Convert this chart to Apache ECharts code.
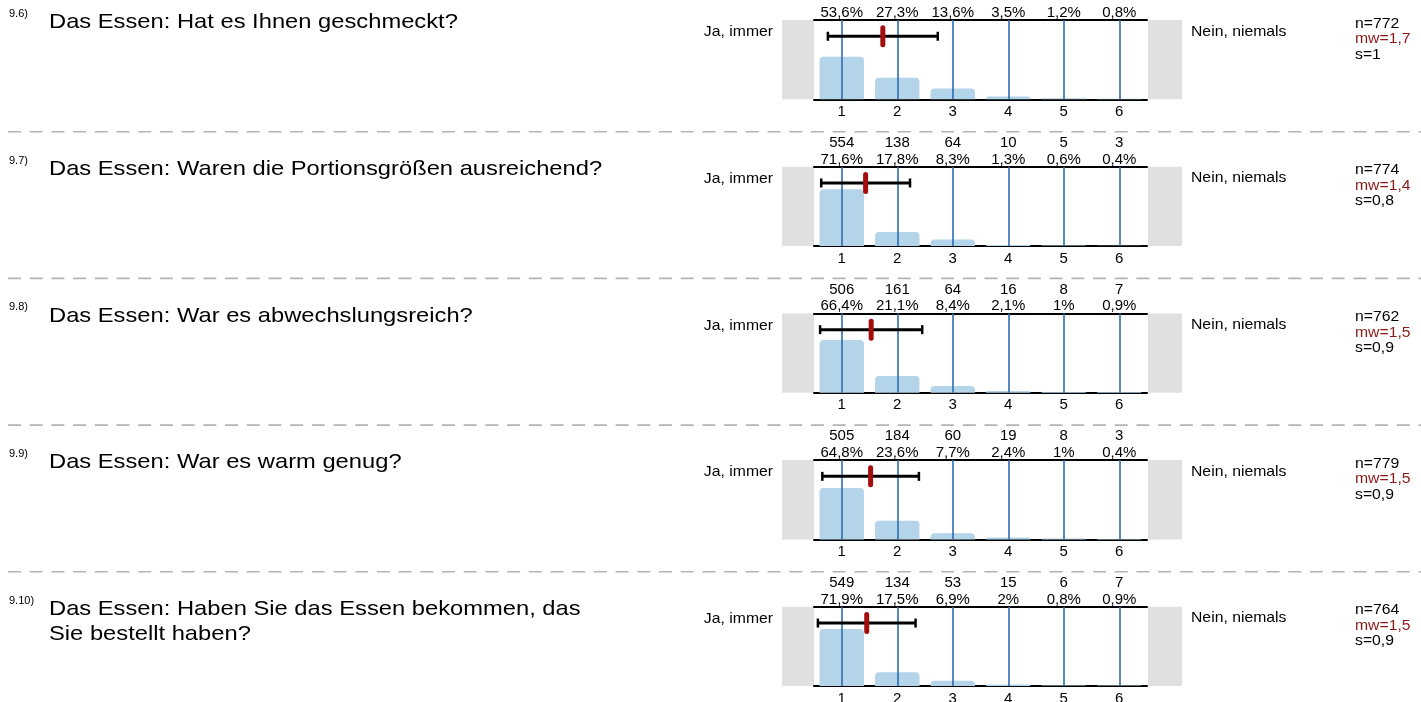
<!DOCTYPE html>
<html>
<head>
<meta charset="utf-8">
<title>Das Essen</title>
<script src="https://cdn.jsdelivr.net/npm/echarts@6/dist/echarts.min.js"></script>
<style>
  html, body { margin: 0; padding: 0; background: #fff; }
  #chart { width: 1421px; height: 702px; }
</style>
</head>
<body>
<div id="chart"></div>
<script>
var questionNos = ['9.6)', '9.7)', '9.8)', '9.9)', '9.10)'];
var questions = [
  'Das Essen: Hat es Ihnen geschmeckt?',
  'Das Essen: Waren die Portionsgrößen ausreichend?',
  'Das Essen: War es abwechslungsreich?',
  'Das Essen: War es warm genug?',
  'Das Essen: Haben Sie das Essen bekommen, das\nSie bestellt haben?'
];
var scale = ['1', '2', '3', '4', '5', '6'];
var counts = [
  [414, 211, 105, 27, 9, 6],
  [554, 138, 64, 10, 5, 3],
  [506, 161, 64, 16, 8, 7],
  [505, 184, 60, 19, 8, 3],
  [549, 134, 53, 15, 6, 7]
];
var percents = [
  [53.6, 27.3, 13.6, 3.5, 1.2, 0.8],
  [71.6, 17.8, 8.3, 1.3, 0.6, 0.4],
  [66.4, 21.1, 8.4, 2.1, 1, 0.9],
  [64.8, 23.6, 7.7, 2.4, 1, 0.4],
  [71.9, 17.5, 6.9, 2, 0.8, 0.9]
];
var nValues = [772, 774, 762, 779, 764];
var mwValues = [1.7, 1.4, 1.5, 1.5, 1.5];
var sValues = [1, 0.8, 0.9, 0.9, 0.9];
// Mittelwert und Streuung fuer den Fehlerbalken
var meanPos = [1.74, 1.43, 1.53, 1.52, 1.45];
var sdPos = [0.99, 0.80, 0.92, 0.87, 0.88];
var leftLabel = 'Ja, immer';
var rightLabel = 'Nein, niemals';

var font = '"Liberation Sans", Arial, sans-serif';
var firstTop = 20, rowPitch = 146.7, plotH = 79.3, plotL = 814, plotW = 333;

function de(v) {
  return String(v).replace('.', ',');
}

var grids = [], xAxes = [], yAxes = [], series = [], graphics = [];

for (var i = 0; i < questions.length; i++) {
  var rowTop = firstTop + rowPitch * i;
  grids.push({
    left: plotL, top: rowTop, width: plotW, height: plotH,
    containLabel: false, outerBoundsMode: 'none'
  });

  // unten: Skala 1..6
  xAxes.push({
    type: 'category', gridIndex: i, data: scale, position: 'bottom',
    axisLine: { lineStyle: { color: '#000', width: 2 } },
    axisTick: { show: false },
    axisLabel: { color: '#000', fontSize: 15, fontFamily: font, margin: 5 }
  });
  // oben: Anzahl und Prozent
  xAxes.push({
    type: 'category', gridIndex: i, position: 'top',
    data: counts[i].map(function (c, j) { return c + '\n' + de(percents[i][j]) + '%'; }),
    axisLine: { lineStyle: { color: '#000', width: 2 } },
    axisTick: { show: false },
    axisLabel: { color: '#000', fontSize: 15, fontFamily: font, lineHeight: 16.5, margin: -1 }
  });
  // versteckte Werteachse fuer Mittelwert
  xAxes.push({ type: 'value', gridIndex: i, min: 0.5, max: 6.5, show: false });
  yAxes.push({ type: 'value', gridIndex: i, min: 0, max: 100, show: false });

  series.push({
    type: 'bar', xAxisIndex: i * 3, yAxisIndex: i,
    data: percents[i], barWidth: '80%',
    itemStyle: { color: '#b4d4ea', borderRadius: [4, 4, 0, 0] },
    markLine: {
      silent: true, symbol: ['none', 'none'],
      label: { show: false },
      lineStyle: { color: '#2e6db3', width: 1.6, type: 'solid' },
      data: scale.map(function (s, j) { return { xAxis: j }; })
    }
  });
  series.push({
    type: 'custom', xAxisIndex: i * 3 + 2, yAxisIndex: i,
    encode: { x: 0, y: 2 },
    data: [[meanPos[i], sdPos[i], 79.5]],
    z: 5,
    renderItem: function (params, api) {
      var m = api.value(0), s = api.value(1), yv = api.value(2);
      var pL = api.coord([m - s, yv]);
      var pR = api.coord([m + s, yv]);
      var pM = api.coord([m, yv]);
      return {
        type: 'group',
        children: [
          { type: 'line', shape: { x1: pL[0], y1: pL[1], x2: pR[0], y2: pR[1] }, style: { stroke: '#000', lineWidth: 3 } },
          { type: 'line', shape: { x1: pL[0], y1: pL[1] - 4.5, x2: pL[0], y2: pL[1] + 4.5 }, style: { stroke: '#000', lineWidth: 2.5 } },
          { type: 'line', shape: { x1: pR[0], y1: pR[1] - 4.5, x2: pR[0], y2: pR[1] + 4.5 }, style: { stroke: '#000', lineWidth: 2.5 } },
          { type: 'rect', shape: { x: pM[0] - 2.5, y: pM[1] - 11, width: 5, height: 22, r: 2.5 }, style: { fill: '#a30d0d' } }
        ]
      };
    }
  });

  // graue Kaesten links/rechts
  graphics.push({ type: 'rect', shape: { x: 782, y: rowTop, width: 32, height: plotH }, style: { fill: '#e0e0e0' }, silent: true });
  graphics.push({ type: 'rect', shape: { x: 1148, y: rowTop, width: 34, height: plotH }, style: { fill: '#e0e0e0' }, silent: true });

  if (i > 0) {
    graphics.push({
      type: 'line', shape: { x1: 8, y1: rowTop - 35, x2: 1421, y2: rowTop - 35 },
      style: { stroke: '#b4b4b4', lineWidth: 1.6, lineDash: [13, 8.7] }, silent: true
    });
  }

  graphics.push({ type: 'text', x: 9, y: rowTop - 6, style: { text: questionNos[i], font: '11px ' + font, fill: '#000', verticalAlign: 'middle' } });
  graphics.push({ type: 'text', x: 49, y: rowTop - 10, scaleX: 1.13, style: { text: questions[i], font: '21px ' + font, lineHeight: 25, fill: '#000', verticalAlign: 'top' } });
  graphics.push({ type: 'text', x: 773, y: rowTop + 12, scaleX: 1.05, style: { text: leftLabel, font: '15px ' + font, fill: '#000', align: 'right', verticalAlign: 'middle' } });
  graphics.push({ type: 'text', x: 1191, y: rowTop + 11.5, scaleX: 1.05, style: { text: rightLabel, font: '15px ' + font, fill: '#000', verticalAlign: 'middle' } });
  graphics.push({ type: 'text', x: 1355, y: rowTop + 3.5, scaleX: 1.05, style: { text: 'n=' + nValues[i], font: '15px ' + font, fill: '#000', verticalAlign: 'middle' } });
  graphics.push({ type: 'text', x: 1355, y: rowTop + 19, scaleX: 1.05, style: { text: 'mw=' + de(mwValues[i]), font: '15px ' + font, fill: '#8b1a1a', verticalAlign: 'middle' } });
  graphics.push({ type: 'text', x: 1355, y: rowTop + 34.5, scaleX: 1.05, style: { text: 's=' + de(sValues[i]), font: '15px ' + font, fill: '#000', verticalAlign: 'middle' } });
}

var chart = echarts.init(document.getElementById('chart'));
chart.setOption({
  animation: false,
  grid: grids,
  xAxis: xAxes,
  yAxis: yAxes,
  series: series,
  graphic: graphics
});
</script>
</body>
</html>
